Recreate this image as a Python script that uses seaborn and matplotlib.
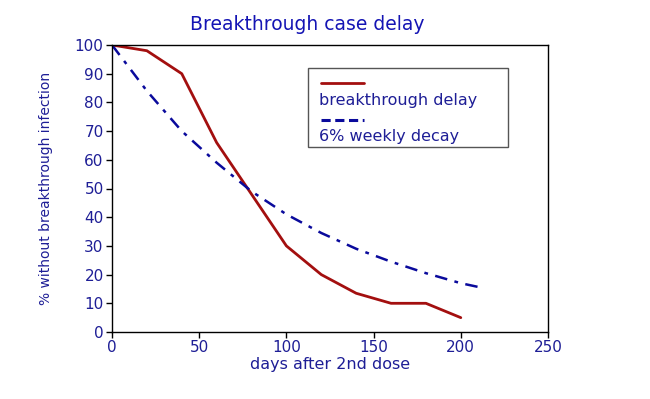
import pandas as pd
import numpy as np
import matplotlib.pyplot as plt
import seaborn as sns
from matplotlib.patches import Rectangle
from matplotlib.lines import Line2D

# data
delay_days = [0, 20, 40, 60, 80, 100, 120, 140, 160, 180, 200]
delay_pct = [100, 98, 90, 66, 48, 30, 20, 13.5, 10, 10, 5]

decay_days = [0, 20, 40, 60, 80, 100, 120, 140, 160, 180, 200, 210]
decay_pct = [100, 84, 70, 59, 49, 41, 34.5, 29, 24.5, 20.5, 17, 15.7]

x_ticks = [0, 50, 100, 150, 200, 250]
y_ticks = [0, 10, 20, 30, 40, 50, 60, 70, 80, 90, 100]

red = '#a30f0f'
blue = '#0a0a9c'
text_col = '#1e1e96'

sns.set_style('white')
plt.rcParams['font.family'] = ['DejaVu Sans']

df_delay = pd.DataFrame({'days': delay_days, 'pct': delay_pct})
df_decay = pd.DataFrame({'days': decay_days, 'pct': decay_pct})

fig = plt.figure(figsize=(6.5, 3.99), dpi=100)
ax = fig.add_axes([112/650, 1-332/399, (548-112)/650, (332-45)/399])

sns.lineplot(data=df_delay, x='days', y='pct', ax=ax, color=red, linewidth=2.0)
sns.lineplot(data=df_decay, x='days', y='pct', ax=ax, color=blue, linewidth=1.8,
             dashes=False)
ax.lines[-1].set_dashes([5, 3, 1.5, 3])

ax.set_xlim(0, 250)
ax.set_ylim(0, 100)
ax.set_xticks(x_ticks)
ax.set_yticks(y_ticks)
ax.tick_params(axis='both', direction='out', length=4, width=1, color='black',
               labelcolor=text_col, labelsize=11, left=True, bottom=True, pad=2)
for s in ax.spines.values():
    s.set_color('black')
    s.set_linewidth(1)

ax.set_xlabel('days after 2nd dose', color=text_col, fontsize=11.5, labelpad=1)
ax.set_ylabel('% without breakthrough infection', color=text_col, fontsize=10, labelpad=16)
fig.text(307/650, 1-24/399, 'Breakthrough case delay', color='#1414b4', fontsize=13.5,
         ha='center', va='center')

# legend box drawn by hand (handle sits above its label)
def fx(px):
    return (px - 112) / (548 - 112)

def fy(py):
    return (332 - py) / (332 - 45)

ax.add_patch(Rectangle((fx(308), fy(147)), fx(508) - fx(308), fy(68) - fy(147),
                       transform=ax.transAxes, fill=False, edgecolor='#555555',
                       linewidth=1))
ax.add_line(Line2D([fx(321), fx(364)], [fy(83), fy(83)], transform=ax.transAxes,
                   color=red, linewidth=2.0))
ax.text(fx(319), fy(101), 'breakthrough delay', transform=ax.transAxes,
        color=text_col, fontsize=11.5, va='center', ha='left')
ax.add_line(Line2D([fx(321), fx(364)], [fy(120), fy(120)], transform=ax.transAxes,
                   color=blue, linewidth=2.2, dashes=[3, 1.5]))
ax.text(fx(319), fy(137), '6% weekly decay', transform=ax.transAxes,
        color=text_col, fontsize=11.5, va='center', ha='left')

fig.savefig('out.png', dpi=100)
